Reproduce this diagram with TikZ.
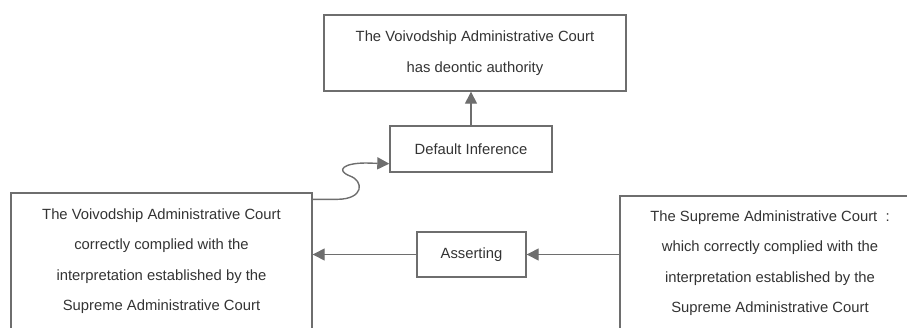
\documentclass[tikz,border=0pt]{standalone}
\usepackage{fontspec}
\setmainfont{Liberation Sans}
\usetikzlibrary{arrows.meta,calc}
\definecolor{linegray}{HTML}{6E6E6E}
\definecolor{textgray}{HTML}{333333}
\tikzset{
  box/.style={draw=linegray, line width=1.4pt, rectangle, inner sep=0pt, align=center,
    text=textgray, font=\fontsize{14.8}{30.5}\selectfont},
  conn/.style={draw=linegray, line width=1.4pt, -{Triangle[length=12pt,width=12pt]}}
}
\begin{document}
\begin{tikzpicture}[x=1pt,y=-1pt]
\useasboundingbox (0,0) rectangle (907,327);
\clip (0,0) rectangle (907,327);
\node[box, minimum width=302pt, minimum height=76pt] (top) at (475,53)
  {The Voivodship Administrative Court\\has deontic authority};
\node[box, minimum width=162pt, minimum height=46pt] (dflt) at (471,149) {Default Inference};
\node[box, minimum width=109pt, minimum height=45pt] (assert) at (471.5,254.5) {Asserting};
\node[box, minimum width=301pt, minimum height=136pt] (left) at (161.5,261)
  {The Voivodship Administrative Court\\correctly complied with the\\interpretation established by the\\Supreme Administrative Court};
\node[box, minimum width=300pt, minimum height=134pt] (right) at (770,263)
  {The Supreme Administrative Court~~:\\which correctly complied with the\\interpretation established by the\\Supreme Administrative Court};
\coordinate (cstart) at ($(left.north east)+(0,7)$);
\coordinate (cend) at ($(dflt.south west)+(0,-9)$);
\draw[conn] (dflt.north) -- (top.south -| dflt.north);
\draw[conn] (cstart) -- ++(25,0) .. controls (364,199) and (364,181) .. (350,176)
  .. controls (335,170) and (344,163) .. (366,163) -- (cend);
\draw[conn] (right.west |- assert.east) -- (assert.east);
\draw[conn] (assert.west) -- (left.east |- assert.west);
\end{tikzpicture}
\end{document}
